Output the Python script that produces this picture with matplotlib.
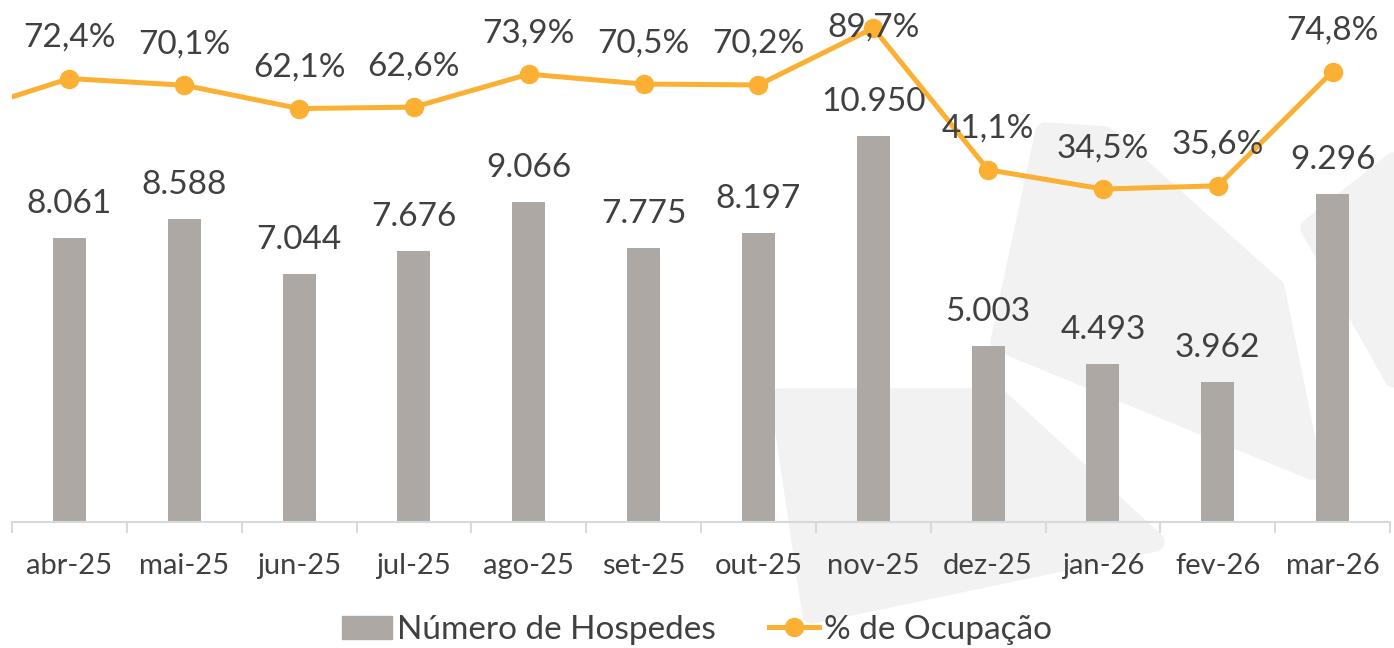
import matplotlib
matplotlib.use("Agg")
import matplotlib.pyplot as plt
import numpy as np
from matplotlib.patches import Patch, Polygon
from matplotlib.lines import Line2D

# data
months = ['abr-25', 'mai-25', 'jun-25', 'jul-25', 'ago-25', 'set-25',
          'out-25', 'nov-25', 'dez-25', 'jan-26', 'fev-26', 'mar-26']
hospedes = [8061, 8588, 7044, 7676, 9066, 7775, 8197, 10950, 5003, 4493, 3962, 9296]
ocupacao = [72.4, 70.1, 62.1, 62.6, 73.9, 70.5, 70.2, 89.7, 41.1, 34.5, 35.6, 74.8]
ocupacao_prev = 59.8  # mar-25, only the line stub is visible at left edge

bar_color = '#ADA8A3'
line_color = '#FBB034'
text_color = '#404040'
wm_color = '#F2F2F2'

plt.rcParams['font.family'] = ['Lato', 'DejaVu Sans']

W, H = 1394, 648
fig = plt.figure(figsize=(W / 100, H / 100), dpi=100)

# faint background logo (watermark), pixel coords from top-left
def px(pts):
    return [(x / W, 1 - y / H) for x, y in pts]

for shape in ([(780, 398), (998, 398), (1155, 542), (812, 614)],
              [(1045, 132), (1105, 136), (1275, 288), (1312, 470), (1000, 342)],
              [(1310, 228), (1394, 162), (1394, 378)]):
    fig.patches.append(Polygon(px(shape), closed=True, transform=fig.transFigure,
                               facecolor=wm_color, edgecolor=wm_color, lw=14,
                               joinstyle='round', zorder=-5))

ax = fig.add_axes([12 / W, (H - 522) / H, 1378 / W, 512 / H])
ax.patch.set_visible(False)
ax2 = ax.twinx()

x = np.arange(len(months))
ax.bar(x, hospedes, width=0.287, color=bar_color, zorder=2)
ax.set_xlim(-0.5, len(months) - 0.5)
ax.set_ylim(0, 14525)

for xi, v in zip(x, hospedes):
    ax.annotate(f'{v:,}'.replace(',', '.'), (xi, v), xytext=(0, 34), textcoords='offset pixels',
                ha='center', va='center', fontsize=24, color=text_color)

xl = np.concatenate([[-1], x])
yl = np.concatenate([[ocupacao_prev], ocupacao])
ax2.plot(xl, yl, color=line_color, lw=3.6, marker='o', markersize=13, zorder=3,
         solid_capstyle='round')
ax2.set_ylim(-79.7, 95.9)
ax2.set_zorder(ax.get_zorder() + 1)
ax2.patch.set_visible(False)

for xi, v in zip(x, ocupacao):
    # label sits above point, kept inside plot area
    lbl_y = min(v + 41 / 2.917, 95.9 - 18 / 2.917)
    ax2.text(xi, lbl_y, f'{v:.1f}%'.replace('.', ','), ha='center', va='center',
             fontsize=24, color=text_color, zorder=4)

for a in (ax, ax2):
    for s in ['top', 'right', 'left']:
        a.spines[s].set_visible(False)
    a.set_yticks([])
ax2.spines['bottom'].set_visible(False)
ax.spines['bottom'].set_color('#D9D9D9')
ax.spines['bottom'].set_linewidth(1.5)

ax.set_xticks(x)
ax.set_xticklabels(months, fontsize=21, color=text_color)
ax.set_xticks(np.arange(-0.5, len(months)), minor=True)
ax.tick_params(axis='x', which='major', length=0, pad=22)
ax.tick_params(axis='x', which='minor', length=8, width=1.5, color='#D9D9D9')

handles = [Patch(color=bar_color, label='Número de Hospedes'),
           Line2D([0], [0], color=line_color, lw=3.6, marker='o', markersize=13,
                  label='% de Ocupação')]
fig.legend(handles=handles, loc='center', bbox_to_anchor=(0.5, (H - 630) / H), ncol=2,
           frameon=False, fontsize=24, labelcolor=text_color, handlelength=1.5,
           handletextpad=0.15, columnspacing=1.6)

fig.savefig('out.png', dpi=100)
